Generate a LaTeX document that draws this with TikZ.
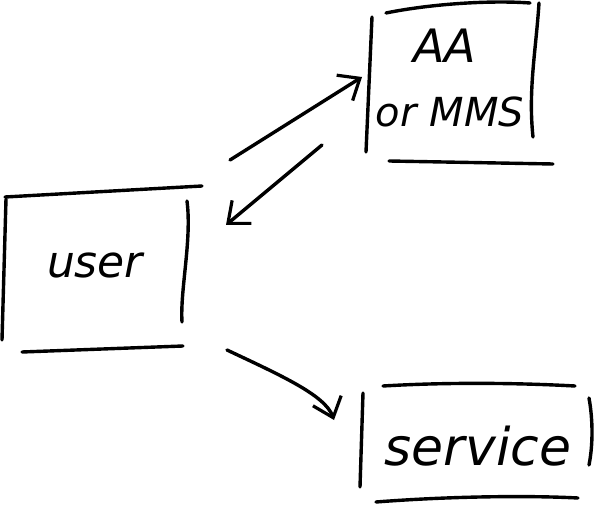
\documentclass[tikz,border=0pt]{standalone}
\usepackage{fontspec}
\setmainfont{DejaVu Sans}
\usetikzlibrary{arrows.meta}
\tikzset{
  stroke/.style={line width=3.4pt, line cap=round, line join=round},
  lbl/.style={font=\itshape\fontsize{44}{46}\selectfont, inner sep=0pt},
  arr/.style={stroke, -{Straight Barb[length=18pt, width=30pt, line width=3.2pt]}},
}
\begin{document}
\begin{tikzpicture}[x=1pt, y=-1pt]
\useasboundingbox (0,0) rectangle (603,505);
% user box
\draw[stroke] (5,197) -- (202,186);
\draw[stroke] (6,199) -- (2,340);
\draw[stroke] (187,201) .. controls (192,240) and (180,290) .. (182,322);
\draw[stroke] (22,352) -- (183,346);
\node[lbl] (user) at (95,265) {user};
% AA box
\draw[stroke] (386,13) .. controls (430,4) and (490,0) .. (530,3);
\draw[stroke] (372,17) -- (366,152);
\draw[stroke] (539,3) .. controls (536,50) and (528,90) .. (533,137);
\draw[stroke] (389,161) -- (553,164);
\node[lbl, font=\itshape\fontsize{46}{46}\selectfont] (aa) at (445,46) {AA};
\node[lbl, font=\itshape\fontsize{40}{40}\selectfont] (mms) at (450,112) {or MMS};
% service box
\draw[stroke] (383,386) .. controls (450,382) and (520,383) .. (575,386);
\draw[stroke] (363,393) -- (360,487);
\draw[stroke] (589,398) .. controls (593,420) and (593,445) .. (589,465);
\draw[stroke] (376,502) .. controls (440,497) and (520,495) .. (578,498);
\node[lbl, font=\itshape\fontsize{52}{52}\selectfont] (service) at (478,446) {service};
% arrows
\coordinate (a1s) at (230,160);
\coordinate (a1e) at (362,77);
\coordinate (a2s) at (322,145);
\coordinate (a2e) at (226,225);
\coordinate (a3s) at (227,350);
\coordinate (a3e) at (334,420);
\draw[arr] (a1s) -- (a1e);
\draw[arr] (a2s) -- (a2e);
\draw[arr] (a3s) .. controls (280,375) and (325,395) .. (a3e);
\end{tikzpicture}
\end{document}
